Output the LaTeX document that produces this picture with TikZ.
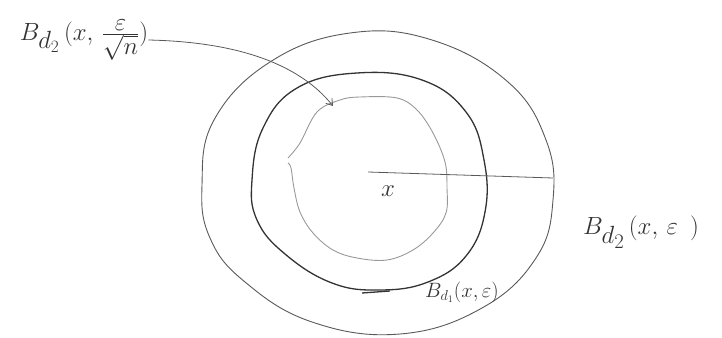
\documentclass[tikz,border=0pt]{standalone}
\usetikzlibrary{arrows.meta}
\begin{document}
\begin{tikzpicture}[x=1pt,y=-1pt,
  outerline/.style={draw=black!65,line width=0.9pt},
  midline/.style={draw=black!80,line width=1.3pt},
  innerline/.style={draw=black!40,line width=0.9pt},
  lbl/.style={text=black!80,inner sep=0pt}]
\useasboundingbox (0,0) rectangle (722,337);
% outer ball
\draw[outerline] plot[smooth cycle,tension=0.7] coordinates {(202,185) (214,120) (270,62) (350,33) (432,40) (508,82) (546,140) (553,200) (536,258) (482,308) (400,334) (312,322) (245,282) (210,238)};
% middle ball
\draw[midline] plot[smooth cycle,tension=0.7] coordinates {(252,180) (263,128) (297,88) (357,73) (422,80) (466,112) (484,160) (485,212) (466,256) (428,282) (380,290) (332,283) (285,254) (257,220)};
\draw[midline] (362,293) -- (390,291);
% inner ball
\draw[innerline] plot[smooth,tension=0.6] coordinates {(288,158) (300,143) (317,112) (340,100) (360,97) (397,98) (417,110) (433,133) (445,162) (447,188) (446,213) (433,233) (413,250) (387,260) (357,258) (333,250) (313,233) (300,212) (294,188) (291,168) (288,163)};
% centre and radius
\coordinate (c) at (368,172);
\coordinate (r) at (553,178);
\draw[outerline,line width=0.8pt] (c) -- (r);
\node[lbl,font=\fontsize{24}{28}\selectfont] (x) at (388,191) {$x$};
% labels
\node[lbl,font=\fontsize{35}{42}\selectfont] (l1) at (84,40) {$B_{d_2}\,(x,\,\frac{\varepsilon}{\sqrt{n}})$};
\node[lbl,font=\fontsize{40}{48}\selectfont] (l2) at (641,232) {$B_{d_2}\,(x,\,\varepsilon\ )$};
\node[lbl,font=\fontsize{20}{24}\selectfont] (l3) at (462,292) {$B_{d_1}(x,\varepsilon)$};
% arrow
\coordinate (tip) at (333,106);
\draw[outerline,line width=0.8pt,-{Straight Barb[length=6pt,width=8pt]}] (l1.east) .. controls (240,42) and (300,65) .. (tip);
\end{tikzpicture}
\end{document}
